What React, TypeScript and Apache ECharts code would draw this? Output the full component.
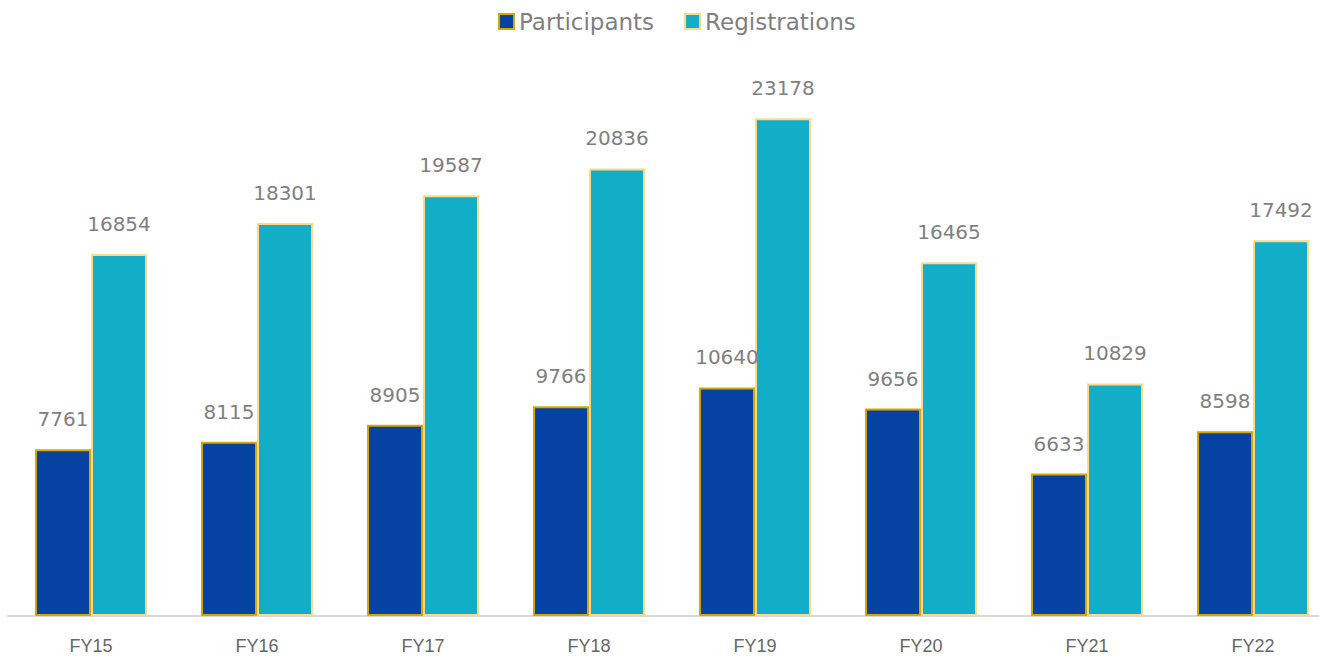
import React, { useEffect, useRef } from "react";
import * as echarts from "echarts";

const categories = ["FY15", "FY16", "FY17", "FY18", "FY19", "FY20", "FY21", "FY22"];
const participants = [7761, 8115, 8905, 9766, 10640, 9656, 6633, 8598];
const registrations = [16854, 18301, 19587, 20836, 23178, 16465, 10829, 17492];

export default function App() {
  const ref = useRef<HTMLDivElement>(null);
  useEffect(() => {
    const chart = echarts.init(ref.current!, null, { renderer: "svg" });
    const labelStyle = {
      show: true,
      position: "top" as const,
      distance: 20,
      color: "#7f7f7f",
      fontSize: 20,
      fontFamily: "DejaVu Sans",
    };
    chart.setOption({
      animation: false,
      legend: {
        top: 5,
        left: 493,
        icon: "rect",
        itemWidth: 15,
        itemHeight: 15,
        itemGap: 30,
        textStyle: { color: "#7f7f7f", fontSize: 23, fontFamily: "DejaVu Sans" },
        data: ["Participants", "Registrations"],
      },
      grid: { left: 8, right: 4, top: 79, bottom: 41, containLabel: false },
      xAxis: {
        type: "category",
        data: categories,
        axisLine: { lineStyle: { color: "#d9d9d9", width: 2 } },
        axisTick: { show: false },
        axisLabel: {
          color: "#666666",
          fontSize: 18,
          fontFamily: "Liberation Sans",
          margin: 21,
        },
      },
      yAxis: {
        type: "value",
        min: 0,
        max: 25000,
        show: false,
        splitLine: { show: false },
      },
      series: [
        {
          name: "Participants",
          type: "bar",
          data: participants,
          barGap: "0%",
          barCategoryGap: "32.5%",
          itemStyle: { color: "#0542A1", borderColor: "#D4A800", borderWidth: 2 },
          label: labelStyle,
        },
        {
          name: "Registrations",
          type: "bar",
          data: registrations,
          itemStyle: { color: "#12ADC6", borderColor: "#FFD98A", borderWidth: 2 },
          label: labelStyle,
        },
      ],
    });
    return () => chart.dispose();
  }, []);
  return (
    <div style={{ position: "absolute", left: 0, top: 0, width: 1319, height: 657, overflow: "hidden" }}>
      <div ref={ref} style={{ width: 1340, height: 657 }} />
    </div>
  );
}
